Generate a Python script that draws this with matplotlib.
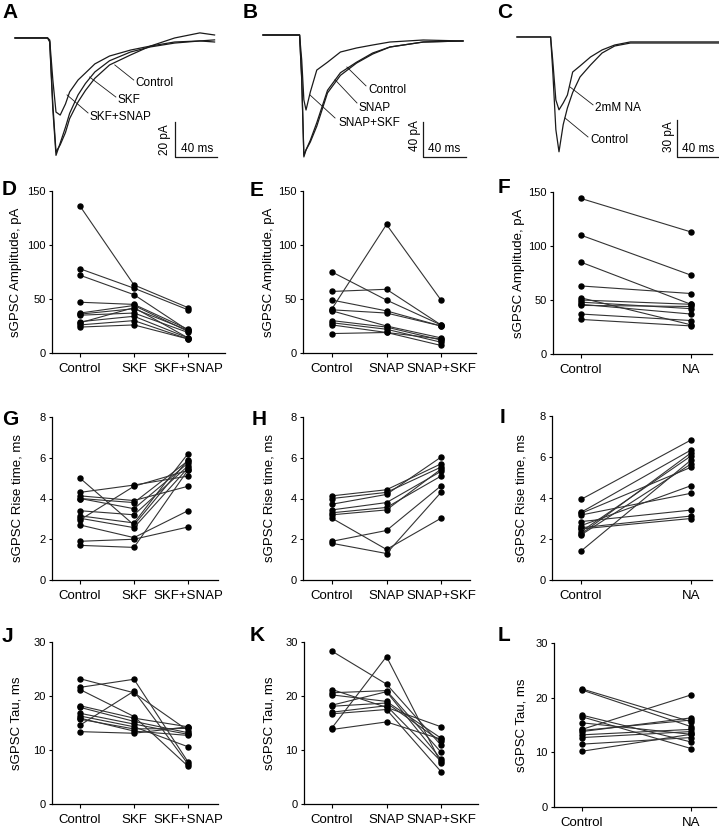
import matplotlib
matplotlib.use('Agg')
import matplotlib.pyplot as plt

plt.rcParams['font.family'] = ['Liberation Sans', 'DejaVu Sans']

W, H = 719, 831

a_time = [0, 31, 33, 36, 39, 43, 48, 52, 60, 67, 76, 90, 110, 129, 152, 176, 190]
a_control = [0, 0, -2.3, -41, -67, -60, -51, -43, -32.5, -26, -19.4, -13, -8, -5.1, -2.9, -1.7, -1.1]
a_skf = [0, 0, -1.7, -38, -65, -61, -54, -46, -36.5, -30, -23, -15.4, -9.7, -4.6, 0, 2.9, 1.7]
a_skf_snap = [0, 0, -1.1, -24, -42.3, -44, -37.7, -30.8, -24, -20, -14.8, -10.3, -6.9, -4.6, -2.3, -1.7, -2.3]

b_time = [0, 34, 36, 38, 40, 44, 50, 60, 72, 87, 102, 118, 149, 186]
b_control = [0, 0, -51, -139, -131, -120, -100, -63, -43, -31, -20.5, -13.7, -8, -6.8]
b_snap = [0, 0, -49, -137, -131, -122, -104, -66, -46, -32, -21.7, -13.7, -8, -6.8]
b_snap_skf = [0, 0, -28.5, -74, -85.5, -65, -40, -31, -19.4, -14.8, -11.4, -8, -5.7, -6.8]

c_time = [0, 32, 34, 37, 40, 44, 48, 53, 60, 70, 81, 93, 108, 136, 165, 193]
c_control = [0, 0, -26.7, -75, -93, -71, -57.5, -45, -32.4, -22.7, -13, -7.3, -4.9, -4.9, -4.9, -4.9]
c_na = [0, 0, -18.6, -51, -59, -53.5, -47, -28.4, -23.5, -16.2, -10.5, -6.5, -4, -4, -4, -4]

# ---- paired cell data ----
skf_groups = ['Control', 'SKF', 'SKF+SNAP']
snap_groups = ['Control', 'SNAP', 'SNAP+SKF']
na_groups = ['Control', 'NA']

# amplitude, pA
d_control = [136, 78, 72, 47, 37, 36, 35, 28, 29, 26, 24]
d_skf = [63, 60, 54, 45, 44, 41, 37, 42, 34, 30, 26]
d_skf_snap = [42, 40, 21, 22, 20, 21, 19, 14, 14, 13, 13]

e_control = [41, 75, 57, 49, 40, 39, 30, 28, 26, 18]
e_snap = [119, 49, 59, 39, 37, 25, 24, 22, 19, 19]
e_snap_skf = [49, 26, 26, 25, 25, 14, 12, 10, 7, 13]

f_control = [144, 110, 85, 63, 52, 50, 48, 46, 45, 37, 32]
f_na = [113, 73, 46, 56, 27, 46, 42, 37, 44, 31, 26]

# rise time, ms
g_control = [5.0, 4.3, 4.13, 4.0, 4.0, 3.4, 3.15, 3.03, 2.95, 2.7, 1.9, 1.7]
g_skf = [2.7, 4.66, 3.9, 3.8, 3.5, 3.2, 2.8, 2.57, 4.6, 2.08, 2.0, 1.6]
g_skf_snap = [5.9, 5.1, 4.6, 5.85, 5.74, 5.6, 6.2, 5.5, 5.38, 3.4, 2.6, 5.4]

h_control = [4.13, 4.0, 3.72, 3.44, 3.3, 3.2, 3.03, 1.9, 1.8]
h_snap = [4.43, 4.3, 4.2, 3.8, 3.56, 3.44, 1.5, 2.43, 1.3]
h_snap_skf = [5.7, 5.54, 6.03, 5.33, 5.1, 5.44, 3.03, 4.62, 4.3]

i_control = [3.93, 3.3, 3.25, 3.17, 2.85, 2.65, 2.55, 2.49, 2.36, 2.24, 2.2, 1.41]
i_na = [6.83, 6.34, 5.5, 4.23, 3.41, 4.6, 3.12, 3.0, 6.05, 6.2, 5.66, 5.85]

# decay tau, ms
j_control = [23.2, 21.6, 21.2, 18.2, 17.9, 16.8, 16.3, 15.7, 15.9, 14.6, 13.4]
j_skf = [20.6, 23.1, 16.2, 15.9, 15.3, 14.8, 14.3, 13.9, 13.5, 20.9, 13.1]
j_skf_snap = [13.6, 7.8, 7.0, 14.3, 13.2, 12.9, 10.6, 14.0, 12.7, 7.4, 14.3]

k_control = [28.3, 14.1, 21.2, 20.6, 20.2, 18.3, 18.1, 17.0, 16.7, 13.8]
k_snap = [22.2, 27.3, 17.9, 21.0, 19.0, 20.8, 18.7, 18.2, 17.5, 15.2]
k_snap_skf = [10.9, 7.6, 14.3, 9.6, 12.2, 8.3, 11.6, 7.9, 6.0, 12.0]

l_control = [21.6, 21.4, 16.8, 16.5, 15.4, 14.2, 13.8, 14.0, 13.2, 12.7, 11.5, 10.2]
l_na = [15.6, 14.7, 11.9, 10.7, 13.3, 20.5, 16.3, 15.9, 14.2, 13.8, 12.7, 13.3]


def px_axes(fig, left, right, top, bottom):
    return fig.add_axes([left / W, 1 - bottom / H, (right - left) / W, (bottom - top) / H])


def trace_panel(fig, box, xlim, ylim, t, traces):
    ax = px_axes(fig, *box)
    for y in traces:
        ax.plot(t, y, color='#1a1a1a', lw=0.9)
    ax.set_xlim(*xlim)
    ax.set_ylim(*ylim)
    ax.axis('off')
    return ax


def label_line(ax, text, start, end, pos):
    ax.plot([start[0], end[0]], [start[1], end[1]], color='#1a1a1a', lw=0.6)
    ax.text(pos[0], pos[1], text, fontsize=8.5, ha='left', va='center')


def scale_bar(ax, x0, y_top, y_bot, dx, ylab, ylab_pos, xlab_pos):
    ax.plot([x0, x0, x0 + dx], [y_top, y_bot, y_bot], color='#1a1a1a', lw=0.9, clip_on=False)
    ax.text(ylab_pos[0], ylab_pos[1], ylab, rotation=90, fontsize=8.5, ha='center', va='center')
    ax.text(xlab_pos[0], xlab_pos[1], '40 ms', fontsize=8.5, ha='center', va='center')


def paired_panel(fig, box, cat_px, cols, groups, ymax, ystep, ylabel, ylabel_x):
    left, right, top, bottom = box
    ax = px_axes(fig, *box)
    n = len(cols)
    step = (cat_px[1] - cat_px[0]) / (n - 1)
    for i in range(len(cols[0])):
        ax.plot(range(n), [c[i] for c in cols], color='#333333', lw=0.8,
                marker='o', ms=3.6, mfc='black', mec='black')
    ax.set_xlim((left - cat_px[0]) / step, (right - cat_px[0]) / step)
    ax.set_ylim(0, ymax)
    ax.set_yticks(range(0, ymax + 1, ystep))
    ax.set_xticks(range(n))
    ax.set_xticklabels(groups)
    for s in ['top', 'right']:
        ax.spines[s].set_visible(False)
    for s in ['left', 'bottom']:
        ax.spines[s].set_linewidth(0.9)
    ax.tick_params(axis='y', length=2.5, width=0.8, pad=2, labelsize=8)
    ax.tick_params(axis='x', length=3, width=0.8, pad=4, labelsize=9.5)
    ax.set_facecolor('none')
    fig.text(ylabel_x / W, 1 - (top + bottom) / 2 / H, ylabel, rotation=90,
             fontsize=9.5, ha='center', va='center')
    return ax


fig = plt.figure(figsize=(W / 100, H / 100), dpi=100)

# A
ax = trace_panel(fig, (10, 232, 25, 165), (-4.8, 206.6), (-72.5, 7.4), a_time,
                 [a_control, a_skf, a_skf_snap])
label_line(ax, 'Control', (95, -15.4), (113, -24), (115, -25.7))
label_line(ax, 'SKF', (71, -22.3), (96, -33.7), (98, -35.4))
label_line(ax, 'SKF+SNAP', (49.5, -32.5), (69.5, -42.8), (71, -45))
scale_bar(ax, 152, -48, -68, 40, '20 pA', (143, -58), (173, -63.4))

# B
ax = trace_panel(fig, (250, 470, 25, 165), (-12.1, 192.5), (-148.2, 11.4), b_time,
                 [b_control, b_snap, b_snap_skf])
label_line(ax, 'Control', (78, -36.5), (95.8, -58), (97.7, -62.7))
label_line(ax, 'SNAP', (67, -51), (87.4, -77.5), (88.4, -83))
label_line(ax, 'SNAP+SKF', (43.7, -68.4), (67, -94.6), (69.8, -100))
scale_bar(ax, 149, -99, -139, 40, '40 pA', (141, -115), (168, -130))

# C
ax = trace_panel(fig, (505, 719, 25, 165), (-11.4, 192.3), (-103.7, 9.7), c_time,
                 [c_control, c_na])
label_line(ax, '2mM NA', (50.5, -40.5), (72.4, -55), (74, -57.5))
label_line(ax, 'Control', (45.7, -65.6), (67.6, -81), (69.5, -83.4))
scale_bar(ax, 152, -67, -97, 40, '30 pA', (145, -81), (172, -90.7))

# amplitude row
amp_label = 'sGPSC Amplitude, pA'
paired_panel(fig, (52, 225, 191, 353), (80, 188), [d_control, d_skf, d_skf_snap],
             skf_groups, 150, 50, amp_label, 16)
paired_panel(fig, (303, 476, 191, 353), (332, 441), [e_control, e_snap, e_snap_skf],
             snap_groups, 150, 50, amp_label, 269)
paired_panel(fig, (553, 712, 192, 354), (581, 691), [f_control, f_na],
             na_groups, 150, 50, amp_label, 519)

# rise time row
rise_label = 'sGPSC Rise time, ms'
paired_panel(fig, (52, 218, 417, 580), (80, 188), [g_control, g_skf, g_skf_snap],
             skf_groups, 8, 2, rise_label, 18)
paired_panel(fig, (303, 470, 417, 580), (332, 441), [h_control, h_snap, h_snap_skf],
             snap_groups, 8, 2, rise_label, 270)
paired_panel(fig, (552, 712, 416, 580), (581, 691), [i_control, i_na],
             na_groups, 8, 2, rise_label, 522)

# tau row
tau_label = 'sGPSC Tau, ms'
paired_panel(fig, (52, 218, 642, 804), (80, 188), [j_control, j_skf, j_skf_snap],
             skf_groups, 30, 10, tau_label, 17)
paired_panel(fig, (304, 478, 642, 804), (332, 441), [k_control, k_snap, k_snap_skf],
             snap_groups, 30, 10, tau_label, 269)
paired_panel(fig, (554, 716, 643, 807), (582, 691), [l_control, l_na],
             na_groups, 30, 10, tau_label, 521)

# panel letters (x px, baseline px)
letters = [('A', 2, 18), ('B', 243, 18), ('C', 497, 18),
           ('D', 2, 195), ('E', 250, 196), ('F', 498, 193),
           ('G', 2, 425), ('H', 252, 425), ('I', 500, 423),
           ('J', 2, 642), ('K', 250, 641), ('L', 498, 641)]
for s, x, y in letters:
    fig.text(x / W, 1 - y / H, s, fontsize=15, fontweight='bold', ha='left', va='baseline')

fig.savefig('out.png', dpi=100)
